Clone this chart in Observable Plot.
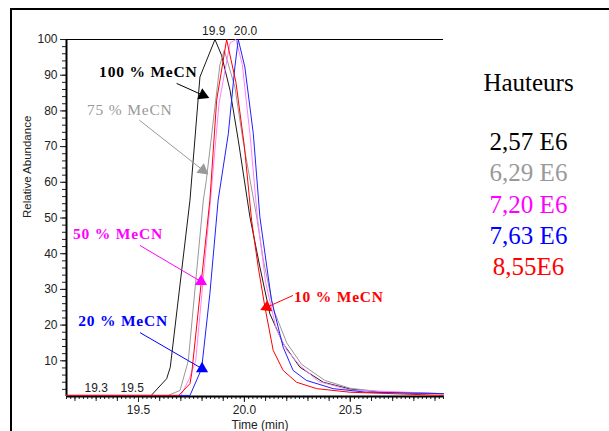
<!DOCTYPE html>
<html><head><meta charset="utf-8">
<script src="https://cdn.jsdelivr.net/npm/d3@7"></script>
<script src="https://cdn.jsdelivr.net/npm/@observablehq/plot@0.6"></script>
<style>
html,body{margin:0;padding:0;background:#fff;}
#wrap{position:relative;width:609px;height:431px;overflow:hidden;}
#frame{position:absolute;left:10px;top:8px;right:-4px;bottom:-4px;border-top:2px solid #000;border-left:2px solid #000;pointer-events:none;z-index:2;}
svg{display:block;}
</style></head><body><div id="wrap"><div id="frame"></div></div>
<script>
// ---- data ----
const seriesNames = ["100 % MeCN","75 % MeCN","50 % MeCN","20 % MeCN","10 % MeCN"];
const lineColors = ["#1a1a1a","#999999","#ff80ff","#2020ff","#ff0000"];
const labelColors = ["#000000","#999999","#ff00ff","#0000ff","#ff0000"];

const t100 = [19.16,19.50,19.56,19.633,19.65,19.743,19.79,19.861,19.892,19.932,19.971,20.026,20.073,20.12,20.183,20.262,20.372,20.498,20.65,20.94];
const a100 = [0.3,0.3,0.3,5,8.2,55,89.5,100,95.6,85.8,71.8,50.3,36.3,23.2,14.8,8.2,4.0,2.1,1.2,0.75];

const t75 = [19.16,19.64,19.696,19.735,19.806,19.82,19.884,19.905,19.955,19.993,20.058,20.09,20.14,20.2,20.27,20.38,20.5,20.65,20.94];
const a75 = [0.3,0.3,1.7,10,55,60.5,92.8,97,86.7,71.8,50.3,38,24,15,9,4.5,2.3,1.3,0.8];

const t50 = [19.16,19.70,19.74,19.77,19.84,19.88,19.932,19.96,19.99,20.026,20.061,20.1,20.15,20.2,20.262,20.35,20.5,20.94];
const a50 = [0.3,0.3,5,10,55,82,99,100,93,73.6,50.3,32,19,13,8.7,4.2,1.8,0.8];

const t20 = [19.16,19.743,19.798,19.837,19.876,19.924,19.955,19.971,20.002,20.042,20.073,20.128,20.183,20.23,20.293,20.419,20.576,20.94];
const a20 = [0.3,0.3,7.8,28.8,55,73.6,92.3,100,92.3,73.6,50.3,26.9,13.8,7.3,4.5,2.2,1.2,0.8];

const t10 = [19.16,19.69,19.743,19.751,19.837,19.869,19.916,19.96,20.0,20.034,20.065,20.097,20.136,20.183,20.246,20.341,20.498,20.94];
const a10 = [0.3,0.3,3.6,6.4,55,83,100,88,70,49.3,36.3,25,12.9,7.3,4,2.2,1.2,0.3];

const peakTimes = [19.30,19.47,19.855,20.005];
const peakLevels = [2.2,2.2,102.3,102.3];
const peakText = ["19.3","19.5","19.9","20.0"];

const annX = [19.314,19.257,19.191,19.215,20.234];
const annY = [90.8,80.2,45.4,21,28];
const arrowX1 = [19.680,19.504,19.507,19.507,20.229];
const arrowY1 = [87.7,77.4,42.3,17.9,28.3];
const arrowX2 = [19.804,19.804,19.795,19.800,20.105];
const arrowY2 = [84.4,63.4,32.2,7.8,25.0];

const heightTitle = "Hauteurs";
const heightValues = ["2,57 E6","6,29 E6","7,20 E6","7,63 E6","8,55E6"];

const xTickLabels = [19.5,20.0,20.5];
const yTickLabels = [10,20,30,40,50,60,70,80,90,100];

// ---- build tables ----
const allT = [t100,t75,t50,t20,t10];
const allA = [a100,a75,a50,a20,a10];
const table = [];
allT.forEach((ts,i)=>ts.forEach((t,j)=>table.push({series:seriesNames[i], color:lineColors[i], t, a:allA[i][j]})));

const xDomain = [19.16,20.94];
const W = 609, H = 431, mL = 66, mR = 166, mT = 39, mB = 35;
const sx = Plot.scale({x:{domain:xDomain, range:[mL, W-mR]}});
const sy = Plot.scale({y:{domain:[0,100], range:[H-mB, mT]}});

const arrows = seriesNames.map((s,i)=>{
  const dx = sx.apply(arrowX2[i]) - sx.apply(arrowX1[i]);
  const dy = sy.apply(arrowY2[i]) - sy.apply(arrowY1[i]);
  return {x1:arrowX1[i], y1:arrowY1[i], x2:arrowX2[i], y2:arrowY2[i], color:labelColors[i],
          rot: Math.atan2(dy,dx)*180/Math.PI + 90, text:s, tx:annX[i], ty:annY[i]};
});
const peaks = peakText.map((p,i)=>({t:peakTimes[i], a:peakLevels[i], text:p}));

const minorX = d3.range(0,90).map(i=>+(19.16+i*0.02).toFixed(2)).filter(v=>v<=20.94);
const midX = d3.range(0,18).map(i=>+(19.2+i*0.1).toFixed(1)).filter(v=>v<=20.94);
const minorY = d3.range(2,100,2);

const serif = "'Times New Roman','Liberation Serif',serif";

const chart = Plot.plot({
  width: W, height: H, marginLeft: mL, marginRight: mR, marginTop: mT, marginBottom: mB,
  style:{fontFamily:"Arial,'Liberation Sans',sans-serif", fontSize:"12px", color:"#222", background:"transparent"},
  x:{domain:xDomain, label:null},
  y:{domain:[0,100], label:null},
  color:{type:"identity"},
  marks:[
    Plot.axisY({ticks:minorY, tickSize:4, tickFormat:()=>"", strokeWidth:1}),
    Plot.axisY({ticks:yTickLabels, tickSize:6, tickPadding:3, strokeWidth:1}),
    Plot.axisX({ticks:minorX, tickSize:3, tickFormat:()=>""}),
    Plot.axisX({ticks:midX, tickSize:5, tickFormat:()=>""}),
    Plot.axisX({ticks:xTickLabels, tickSize:6, tickPadding:3, tickFormat:d3.format(".1f")}),
    Plot.ruleY([100], {stroke:"#000", strokeWidth:1}),
    Plot.ruleX([xDomain[0]], {stroke:"#000", strokeWidth:2}),
    Plot.ruleY([0], {stroke:"#000", strokeWidth:2}),
    Plot.line(table, {x:"t", y:"a", z:"series", stroke:"color", strokeWidth:1}),
    Plot.text(peaks, {x:"t", y:"a", text:"text", fontSize:12, fill:"#222"}),
    Plot.link(arrows, {x1:"x1", y1:"y1", x2:"x2", y2:"y2", stroke:"color", strokeWidth:1}),
    Plot.dot(arrows, {x:"x2", y:"y2", symbol:"triangle", r:4.5, fill:"color", stroke:"none", rotate:"rot"}),
    Plot.text(arrows, {x:"tx", y:"ty", text:"text", fill:"color", textAnchor:"start", fontFamily:serif, fontSize:15.5, fontWeight:"bold"}),
    Plot.text(["Relative Abundance"], {frameAnchor:"left", dx:-39, rotate:-90, fontSize:11.5, fill:"#222"}),
    Plot.text(["Time (min)"], {frameAnchor:"bottom", dx:5, dy:32, fontSize:12, fill:"#222"}),
    Plot.text([heightTitle], {frameAnchor:"top-right", textAnchor:"middle", dx:85, dy:34, fontFamily:serif, fontSize:25, fill:"#000"}),
    ...heightValues.map((v,i)=>Plot.text([v], {frameAnchor:"top-right", textAnchor:"middle", dx:85, dy:93+31.2*i, fontFamily:serif, fontSize:25, fill:labelColors[i]}))
  ]
});
// the gray annotation is drawn in normal weight; widen letter spacing of annotations
d3.select(chart).selectAll("text").filter(function(){return this.textContent==="75 % MeCN";}).attr("font-weight","normal");
d3.select(chart).selectAll("text").filter(function(){return /MeCN/.test(this.textContent);}).style("letter-spacing","0.8px");
document.getElementById("wrap").appendChild(chart);
</script>
</body></html>
